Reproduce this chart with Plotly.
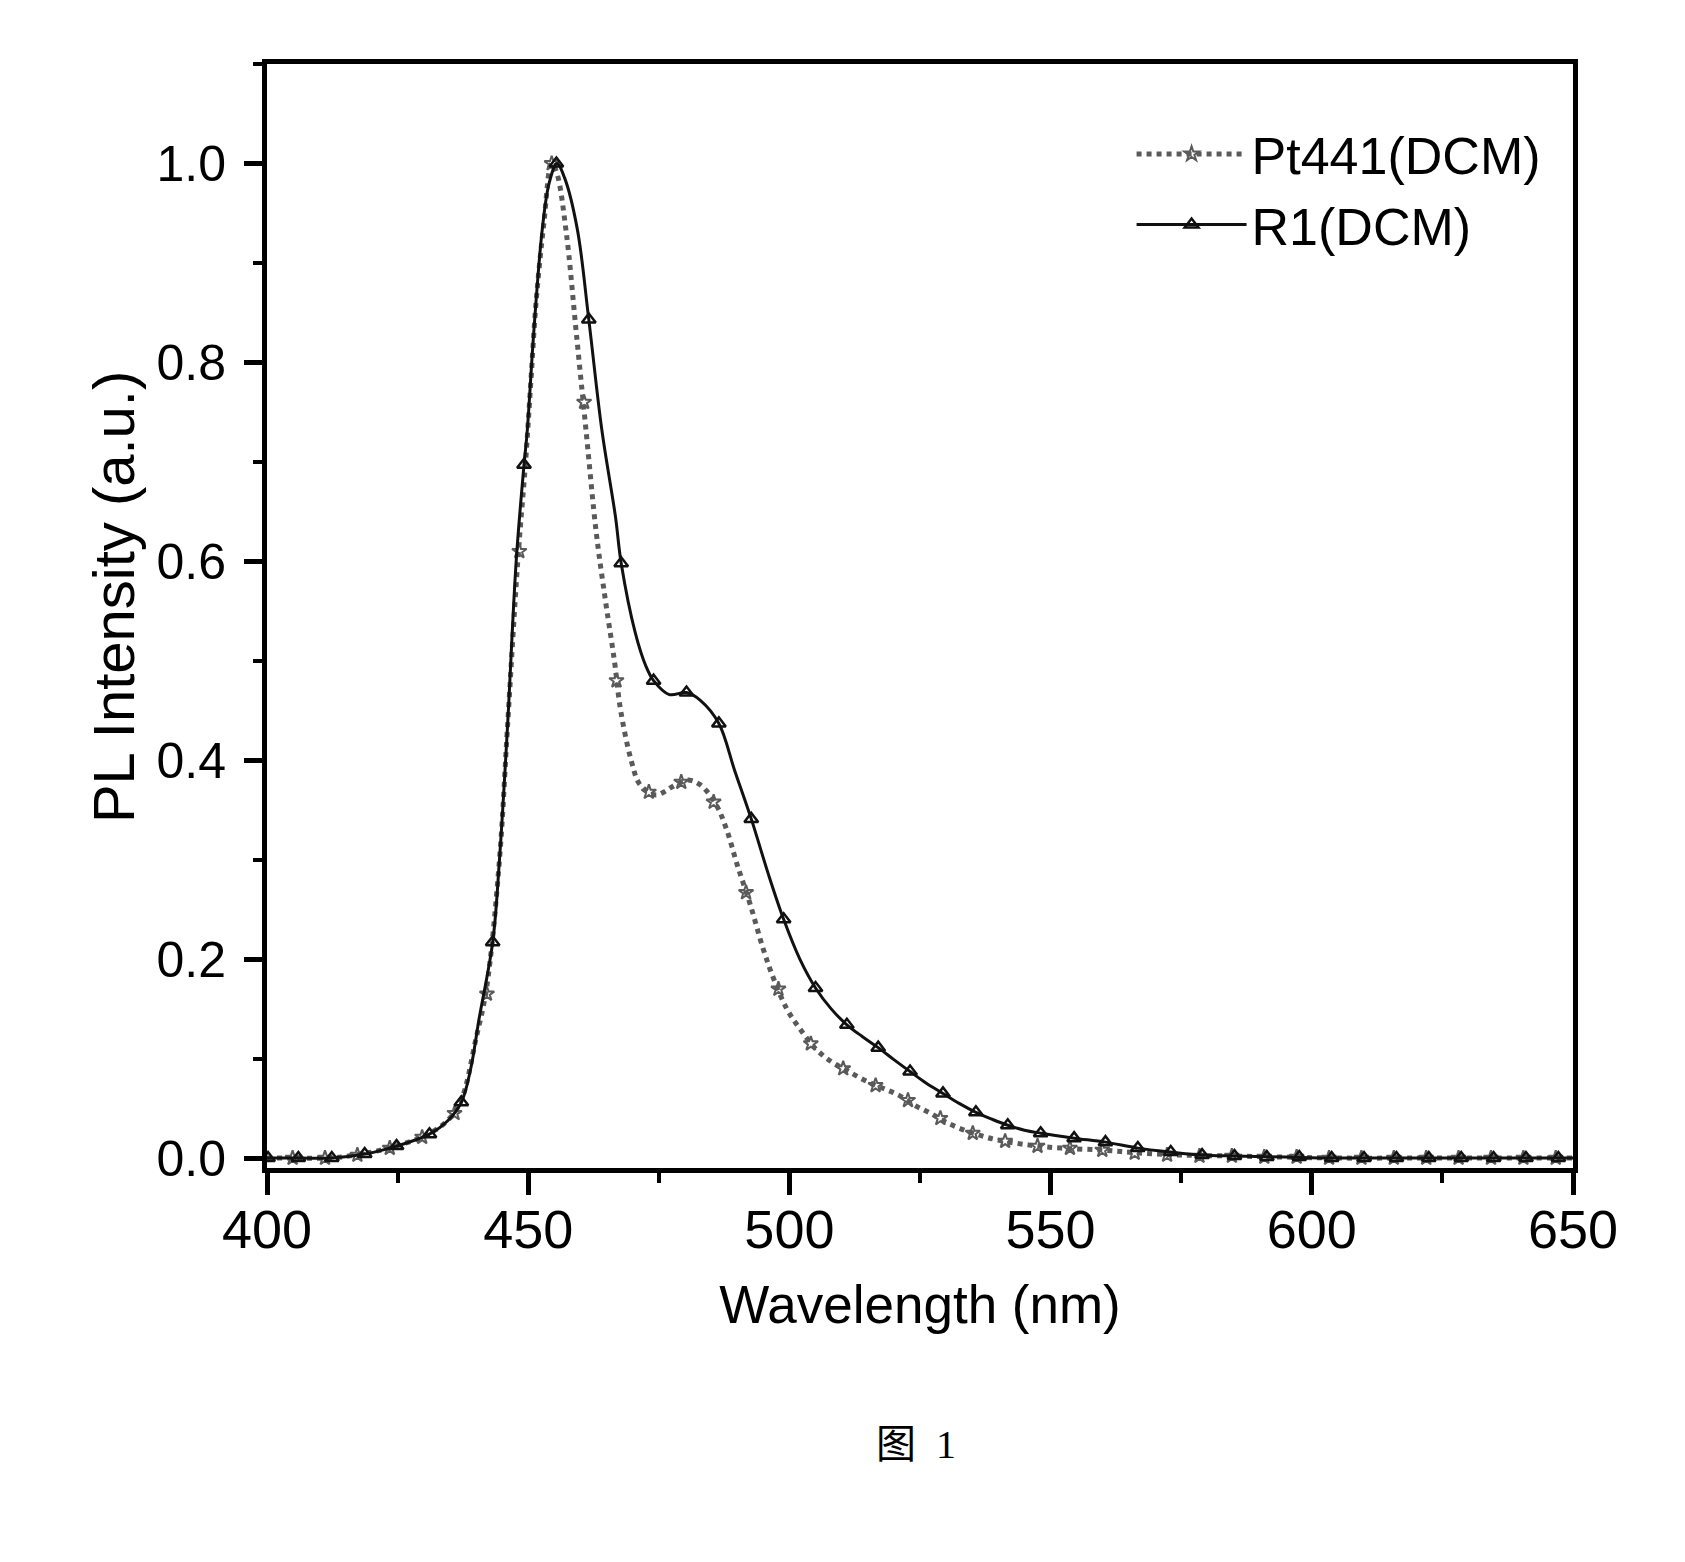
import plotly.graph_objects as go

# ---- data ----
# Pt441(DCM) curve
pt_x = [400, 406, 412, 418, 424, 430, 434, 437, 440, 442, 444.5, 446, 448, 449.5, 450.5,
        451.5, 453, 454.5, 455.5, 457.3, 459.2, 461.1, 463, 464.8, 466.5, 467.7, 469.7,
        471.2, 473, 474.5, 476, 477.5, 480.5, 483, 486, 488, 490, 492.5, 495, 497, 499.5,
        502, 505, 508, 511, 514.5, 518, 521, 524, 527, 530, 533.5, 537, 540, 546, 552,
        560, 567, 575, 585, 595, 605, 620, 635, 650]
pt_y = [0.0, 0.0, 0.0, 0.004, 0.011, 0.022, 0.035, 0.056, 0.12, 0.17, 0.30, 0.43, 0.60,
        0.70, 0.78, 0.86, 0.94, 1.0, 0.99, 0.93, 0.83, 0.73, 0.63, 0.56, 0.50, 0.45, 0.40,
        0.377, 0.368, 0.365, 0.368, 0.373, 0.38, 0.375, 0.355, 0.33, 0.295, 0.255, 0.21,
        0.18, 0.15, 0.13, 0.11, 0.097, 0.088, 0.078, 0.07, 0.063, 0.053, 0.045, 0.036,
        0.028, 0.022, 0.018, 0.013, 0.01, 0.008, 0.005, 0.003, 0.002, 0.001, 0.0, 0.0,
        0.0, 0.0]
pt_mx = [404.9, 411.1, 417.3, 423.5, 429.7, 435.9, 442.1, 448.3, 454.5, 460.7, 466.9,
         473.1, 479.3, 485.5, 491.7, 497.9, 504.1, 510.3, 516.5, 522.7, 528.9, 535.1,
         541.3, 547.5, 553.7, 559.9, 566.1, 572.3, 578.5, 584.7, 590.9, 597.1, 603.3,
         609.5, 615.7, 621.9, 628.1, 634.3, 640.5, 646.7]
pt_my = [0.0, 0.0, 0.003, 0.01, 0.021, 0.045, 0.165, 0.61, 1.0, 0.76, 0.48, 0.368, 0.378,
         0.358, 0.267, 0.17, 0.115, 0.09, 0.073, 0.058, 0.04, 0.025, 0.017, 0.012, 0.01,
         0.008, 0.005, 0.003, 0.002, 0.002, 0.001, 0.001, 0.0, 0.0, 0.0, 0.0, 0.0, 0.0,
         0.0, 0.0]

# R1(DCM) curve
r1_x = [400, 406, 412.4, 418.7, 424.8, 431.1, 434.5, 437.2, 439, 440.6, 443.2, 444.5, 446,
        447.7, 449.2, 449.8, 451.1, 452.7, 454, 455.5, 457, 459.4, 461.6, 464.1, 466.7,
        467.8, 470.5, 472.5, 474, 477, 480.3, 483, 486.5, 489.5, 492.7, 496, 498.9, 502,
        505, 508, 511, 514, 517, 520, 523.1, 526, 529.4, 532.5, 535.7, 538.8, 541.8, 545,
        548.1, 554.5, 560.5, 566.7, 573, 579, 585, 595, 605, 650]
r1_y = [0.0, 0.0, 0.0, 0.004, 0.012, 0.024, 0.037, 0.056, 0.09, 0.14, 0.217, 0.30, 0.43,
        0.60, 0.697, 0.73, 0.833, 0.934, 0.98, 1.0, 0.985, 0.934, 0.843, 0.732, 0.645,
        0.598, 0.528, 0.495, 0.48, 0.466, 0.468, 0.46, 0.437, 0.39, 0.341, 0.285, 0.24,
        0.2, 0.171, 0.15, 0.134, 0.122, 0.111, 0.099, 0.087, 0.076, 0.065, 0.055, 0.046,
        0.039, 0.033, 0.028, 0.025, 0.02, 0.016, 0.01, 0.006, 0.003, 0.002, 0.001, 0.0, 0.0]
r1_mx = [400.2, 406, 412.4, 418.7, 424.8, 431.1, 437.2, 443.2, 449.2, 455.4, 461.6, 467.8,
         474, 480.3, 486.5, 492.7, 498.9, 505, 511, 517, 523.1, 529.4, 535.7, 541.8, 548.1,
         554.5, 560.5, 566.7, 573, 579, 585.2, 591.4, 597.6, 603.8, 610, 616.2, 622.4,
         628.6, 634.8, 641, 647.2]
r1_my = [0.0, 0.0, 0.0, 0.004, 0.012, 0.024, 0.056, 0.217, 0.697, 1.0, 0.843, 0.598, 0.48,
         0.468, 0.437, 0.341, 0.24, 0.171, 0.134, 0.111, 0.087, 0.065, 0.046, 0.033, 0.025,
         0.02, 0.016, 0.01, 0.006, 0.003, 0.002, 0.001, 0.001, 0.0, 0.0, 0.0, 0.0, 0.0,
         0.0, 0.0, 0.0]

series_names = ["Pt441(DCM)", "R1(DCM)"]
x_ticks = [400, 450, 500, 550, 600, 650]
y_ticks = [0.0, 0.2, 0.4, 0.6, 0.8, 1.0]
x_title = "Wavelength (nm)"
y_title = "PL Intensity (a.u.)"
caption = "图\u00a0\u00a01"

FONT = "Liberation Sans, Arial, sans-serif"
PT_COLOR = "#5a5a5a"
R1_COLOR = "#111111"

pt_line = dict(color=PT_COLOR, width=5, dash="dot")
pt_marker = dict(symbol="star-open", size=11, color=PT_COLOR, line=dict(width=2, color=PT_COLOR))
r1_line = dict(color=R1_COLOR, width=3)
r1_marker = dict(symbol="triangle-up-open", size=12, color=R1_COLOR, line=dict(width=2.5, color=R1_COLOR))

fig = go.Figure()
fig.add_trace(go.Scatter(x=pt_x, y=pt_y, mode="lines", line=pt_line, showlegend=False,
                         legendgroup="pt", line_shape="spline", hoverinfo="skip"))
fig.add_trace(go.Scatter(x=pt_mx, y=pt_my, mode="markers", marker=pt_marker, showlegend=False,
                         legendgroup="pt"))
fig.add_trace(go.Scatter(x=r1_x, y=r1_y, mode="lines", line=r1_line, showlegend=False,
                         legendgroup="r1", line_shape="spline", hoverinfo="skip"))
fig.add_trace(go.Scatter(x=r1_mx, y=r1_my, mode="markers", marker=r1_marker, showlegend=False,
                         legendgroup="r1"))
# legend entries
fig.add_trace(go.Scatter(x=[None], y=[None], mode="lines+markers", name=series_names[0],
                         line=pt_line, marker=pt_marker, legendgroup="pt"))
fig.add_trace(go.Scatter(x=[None], y=[None], mode="lines+markers", name=series_names[1],
                         line=r1_line, marker=r1_marker, legendgroup="r1"))

fig.update_layout(
    width=1685, height=1562,
    margin=dict(l=267, r=112, t=64, b=394),
    paper_bgcolor="white", plot_bgcolor="white",
    font=dict(family=FONT, color="black", size=52),
    legend=dict(x=0.662, y=0.955, xanchor="left", yanchor="top",
                bgcolor="rgba(0,0,0,0)", font=dict(size=52, family=FONT),
                itemwidth=110, tracegroupgap=0),
    showlegend=True,
)
fig.update_xaxes(
    range=[400, 650], tickvals=x_ticks, ticks="outside", ticklen=22, tickwidth=5,
    tickcolor="black", showline=True, linewidth=5, linecolor="black", mirror=True,
    showgrid=False, zeroline=False, tickfont=dict(size=54, family=FONT),
    minor=dict(dtick=25, ticks="outside", ticklen=10, tickwidth=4, tickcolor="black"),
    title=dict(text=x_title, font=dict(size=53, family=FONT), standoff=30),
    ticklabelstandoff=-12,
)
fig.update_yaxes(
    range=[-0.01, 1.1], tickvals=y_ticks, tickformat=".1f", ticks="outside", ticklen=18,
    tickwidth=5, tickcolor="black", showline=True, linewidth=5, linecolor="black",
    mirror=True, showgrid=False, zeroline=False, tickfont=dict(size=50, family=FONT),
    minor=dict(dtick=0.1, ticks="outside", ticklen=9, tickwidth=4, tickcolor="black"),
    ticklabelstandoff=8,
)
fig.add_annotation(text=y_title, x=-0.118, y=0.517, xref="paper", yref="paper",
                   xanchor="center", yanchor="middle", textangle=-90, showarrow=False,
                   font=dict(size=58, family=FONT, color="black"))
fig.add_annotation(text=caption, x=0.5, y=0, xref="paper", yref="paper",
                   xanchor="center", yanchor="middle", yshift=-276, xshift=-4,
                   showarrow=False,
                   font=dict(size=40, family="Liberation Serif, Noto Sans CJK SC", color="black"))

fig.write_html("out.html")
